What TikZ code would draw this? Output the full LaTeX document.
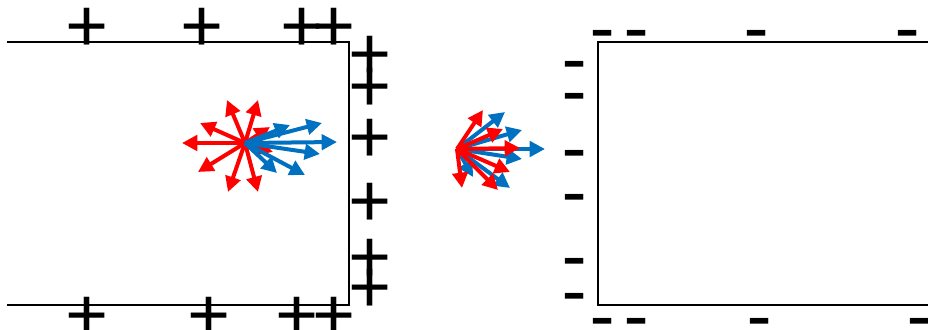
\documentclass[tikz,border=0pt]{standalone}
\usepackage{fontspec}
\setmainfont{Carlito}
\usetikzlibrary{positioning, arrows.meta}
\definecolor{fieldRed}{HTML}{FF0000}
\definecolor{fieldBlue}{HTML}{0070C0}

\begin{document}
\begin{tikzpicture}[
  x=0.75pt, y=-0.75pt,
  plate/.style={
    draw=black,
    line width=1.5pt
  },
  charge/.style={
    inner sep=0pt,
    font=\fontsize{59}{59}\selectfont
  },
  redvec/.style={
    -{Triangle[length=11.5pt, width=11.5pt]},
    line width=3pt,
    draw=fieldRed
  },
  bluevec/.style={
    -{Triangle[length=11.5pt, width=11.5pt]},
    line width=3pt,
    draw=fieldBlue
  }
]
  \useasboundingbox (0,0) rectangle (928,329);

  % Plates
  \draw[plate] (7,42) -- (349,42) -- (349,305) -- (7,305);
  \draw[plate] (928,42) -- (598,42) -- (598,305) -- (928,305);

  % Positive charges
  \node[charge] (p1) at (87,30) {+};
  \node[charge] (p2) at (202,30) {+};
  \node[charge] (p3) at (302,30) {+};
  \node[charge] (p4) at (334,30) {+};
  \node[charge] (p5) at (370,58) {+};
  \node[charge] (p6) at (370,90) {+};
  \node[charge] (p7) at (370,141) {+};
  \node[charge] (p8) at (370,205) {+};
  \node[charge] (p9) at (370,261) {+};
  \node[charge] (p10) at (370,291) {+};
  \node[charge] (p11) at (87,319) {+};
  \node[charge] (p12) at (209,319) {+};
  \node[charge] (p13) at (297,319) {+};
  \node[charge] (p14) at (334,319) {+};

  % Negative charges
  \node[charge] (m1) at (603,43) {-};
  \node[charge] (m2) at (637,43) {-};
  \node[charge] (m3) at (757,43) {-};
  \node[charge] (m4) at (908,43) {-};
  \node[charge] (m5) at (575,74) {-};
  \node[charge] (m6) at (575,106) {-};
  \node[charge] (m7) at (575,163) {-};
  \node[charge] (m8) at (575,207) {-};
  \node[charge] (m9) at (575,271) {-};
  \node[charge] (m10) at (575,306) {-};
  \node[charge] (m11) at (603,331) {-};
  \node[charge] (m12) at (637,331) {-};
  \node[charge] (m13) at (760,331) {-};
  \node[charge] (m14) at (920,331) {-};

  % Field vectors near the positive plate
  \coordinate (srcA) at (245,143);
  \draw[redvec] (srcA) -- ++(-63,0);
  \draw[redvec] (srcA) -- ++(-45,-20);
  \draw[redvec] (srcA) -- ++(-18,-43);
  \draw[redvec] (srcA) -- ++(13,-43);
  \draw[redvec] (srcA) -- ++(25,-16);
  \draw[redvec] (srcA) -- ++(28,9);
  \draw[redvec] (srcA) -- ++(13,49);
  \draw[redvec] (srcA) -- ++(-17,49);
  \draw[redvec] (srcA) -- ++(-47,29);
  \draw[bluevec] (srcA) -- ++(92,-1);
  \draw[bluevec] (srcA) -- ++(77,-20);
  \draw[bluevec] (srcA) -- ++(45,-18);
  \draw[bluevec] (srcA) -- ++(75,11);
  \draw[bluevec] (srcA) -- ++(60,32);
  \draw[bluevec] (srcA) -- ++(32,30);

  % Field vectors in the gap
  \coordinate (srcB) at (457,149);
  \draw[bluevec] (srcB) -- ++(48,-37);
  \draw[bluevec] (srcB) -- ++(65,-19);
  \draw[bluevec] (srcB) -- ++(88,0);
  \draw[bluevec] (srcB) -- ++(65,10);
  \draw[bluevec] (srcB) -- ++(53,39);
  \draw[bluevec] (srcB) -- ++(16,28);
  \draw[redvec] (srcB) -- ++(26,-39);
  \draw[redvec] (srcB) -- ++(46,-20);
  \draw[redvec] (srcB) -- ++(63,-1);
  \draw[redvec] (srcB) -- ++(53,23);
  \draw[redvec] (srcB) -- ++(41,41);
  \draw[redvec] (srcB) -- ++(5,39);
\end{tikzpicture}
\end{document}
